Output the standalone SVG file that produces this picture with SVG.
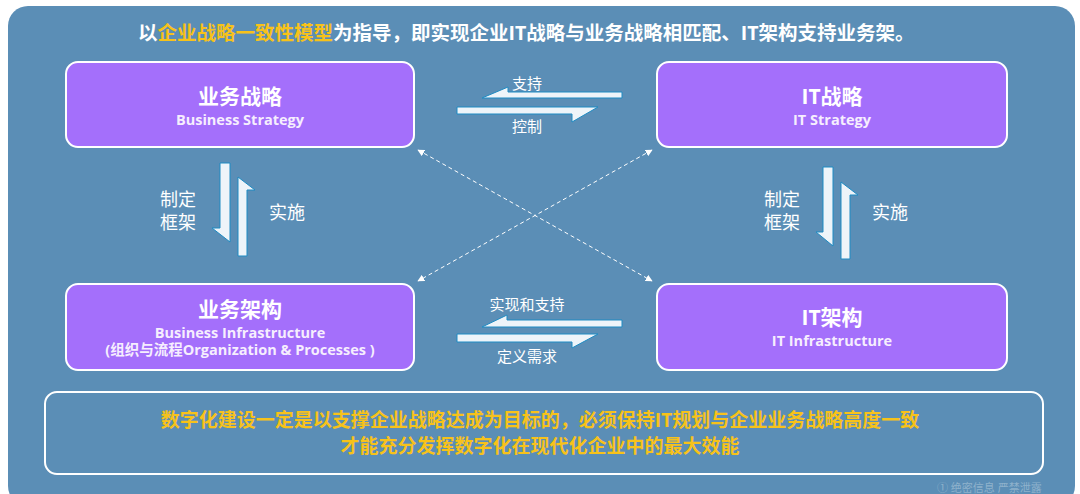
<svg xmlns="http://www.w3.org/2000/svg" width="1080" height="494" viewBox="0 0 1080 494">
<defs>
<style>
.t{font-family:"Open Sans","Noto Sans CJK SC",sans-serif;}
.box{fill:#a46ffb;stroke:#ffffff;stroke-width:2;}
.h{font-size:21px;font-weight:700;fill:#ffffff;text-anchor:middle;}
.s{font-size:14.5px;font-weight:700;fill:#f6eefe;text-anchor:middle;}
.lbl{font-size:15px;fill:#ffffff;text-anchor:middle;}
.vl{font-size:18px;fill:#ffffff;text-anchor:middle;}
.ar{fill:#eef4f9;stroke:#1e8bc3;stroke-width:1;}
.dash{stroke:#ffffff;stroke-width:1;stroke-dasharray:4 3;fill:none;marker-start:url(#ah);marker-end:url(#ah);}
.y{fill:#f7c21a;}
.sum{font-size:19px;font-weight:700;fill:#f7c21a;text-anchor:middle;}
</style>
<marker id="ah" viewBox="0 0 10 10" refX="9" refY="5" markerWidth="7" markerHeight="7" orient="auto-start-reverse" markerUnits="userSpaceOnUse">
<path d="M0 0 L10 5 L0 10 Z" fill="#ffffff"/>
</marker>
</defs>
<rect width="1080" height="494" fill="#ffffff"/>
<rect x="8" y="6" width="1067" height="500" rx="20" fill="#5b8eb6"/>
<text class="t" x="138" y="40" font-size="19.5" font-weight="700" fill="#ffffff">以<tspan class="y">企业战略一致性模型</tspan>为指导，即实现企业IT战略与业务战略相匹配、IT架构支持业务架。</text>

<g id="connectors">
<line class="dash" x1="418" y1="150" x2="652" y2="281"/>
<line class="dash" x1="652" y1="150" x2="418" y2="281"/>
<path class="ar" d="M622 92 L508 92 L508 87 L482 98 L622 98 Z"/>
<path class="ar" d="M457 107 L598 107 L572 122 L572 114 L457 114 Z"/>
<text class="t lbl" x="527" y="89">支持</text>
<text class="t lbl" x="527" y="132">控制</text>
<path class="ar" d="M622 320 L507 320 L507 315 L482 327 L622 327 Z"/>
<path class="ar" d="M457 334 L598 334 L572 348 L572 342 L457 342 Z"/>
<text class="t lbl" x="527" y="310">实现和支持</text>
<text class="t lbl" x="527" y="362">定义需求</text>
<path class="ar" d="M220 163 L230 163 L230 242 L212 228 L220 228 Z"/>
<path class="ar" d="M238 256 L238 177 L255 190 L247 190 L247 256 Z"/>
<text class="t vl" x="178" y="206">制定</text>
<text class="t vl" x="178" y="229">框架</text>
<text class="t vl" x="287" y="219">实施</text>
<path class="ar" d="M823 167 L833 167 L833 246 L816 232 L823 232 Z"/>
<path class="ar" d="M841 259 L841 182 L858 195 L850 195 L850 259 Z"/>
<text class="t vl" x="782" y="206">制定</text>
<text class="t vl" x="782" y="229">框架</text>
<text class="t vl" x="890" y="219">实施</text>
</g>

<g id="business-strategy">
<rect class="box" x="66" y="62" width="348" height="85" rx="12"/>
<text class="t h" x="240" y="104">业务战略</text>
<text class="t s" x="240" y="125">Business Strategy</text>
</g>
<g id="it-strategy">
<rect class="box" x="657" y="62" width="350" height="85" rx="12"/>
<text class="t h" x="832" y="104">IT战略</text>
<text class="t s" x="832" y="125">IT Strategy</text>
</g>
<g id="business-infrastructure">
<rect class="box" x="66" y="284" width="348" height="86" rx="12"/>
<text class="t h" x="240" y="317">业务架构</text>
<text class="t s" x="240" y="338">Business Infrastructure</text>
<text class="t s" x="240" y="355">(组织与流程Organization &amp; Processes )</text>
</g>
<g id="it-infrastructure">
<rect class="box" x="657" y="284" width="350" height="86" rx="12"/>
<text class="t h" x="832" y="325">IT架构</text>
<text class="t s" x="832" y="346">IT Infrastructure</text>
</g>
<g id="summary">
<rect x="45" y="392" width="998" height="82" rx="12" fill="#5b8eb6" stroke="#ffffff" stroke-width="2"/>
<text class="t sum" x="540" y="427">数字化建设一定是以支撑企业战略达成为目标的，必须保持IT规划与企业业务战略高度一致</text>
<text class="t sum" x="540" y="453">才能充分发挥数字化在现代化企业中的最大效能</text>
</g>
<text class="t" x="937" y="492" font-size="11" fill="#8fb2cc">① 绝密信息 严禁泄露</text>
</svg>
